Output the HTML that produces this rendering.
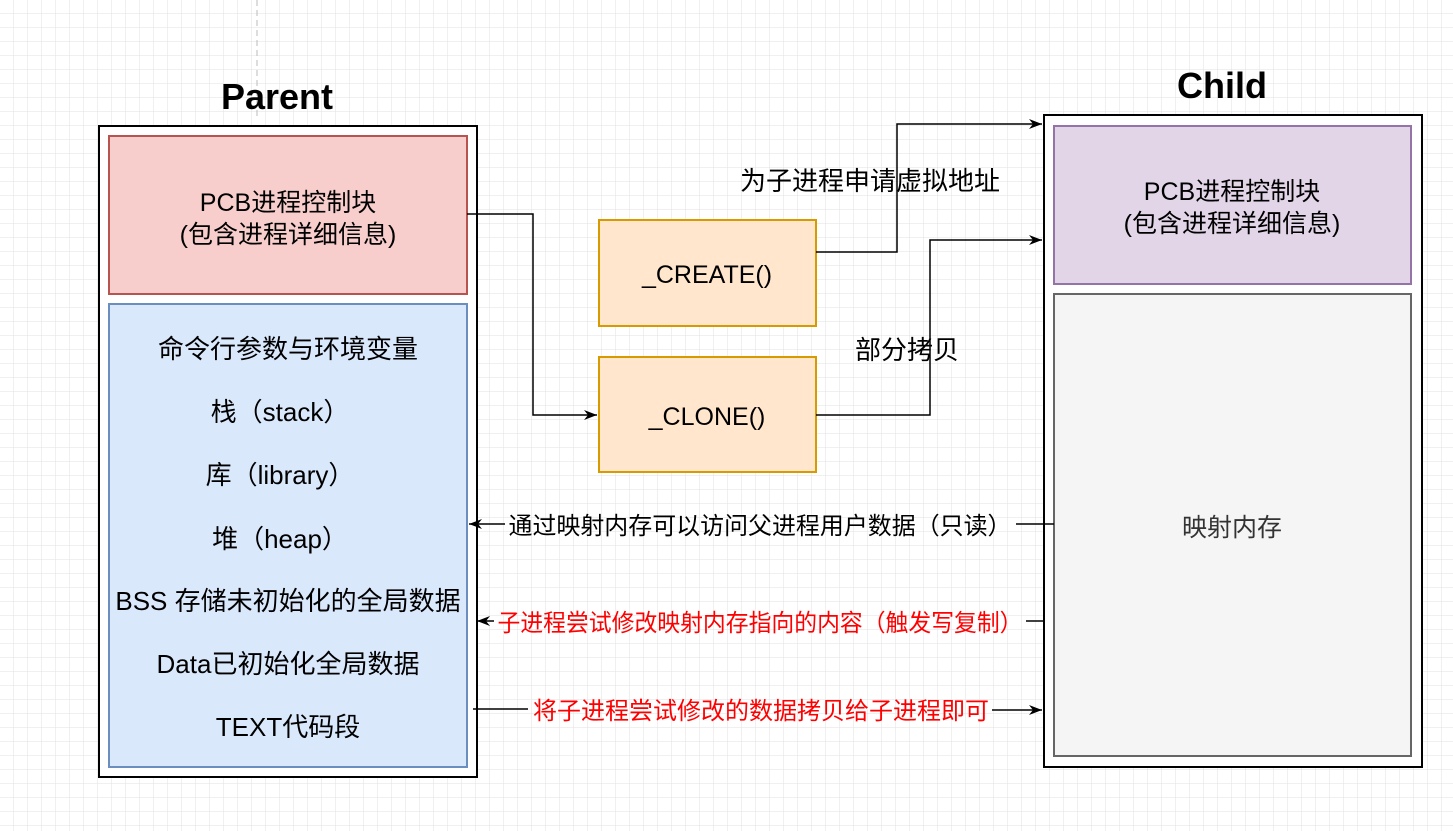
<!DOCTYPE html>
<html><head><meta charset="utf-8"><style>
html,body{margin:0;padding:0;background:#fff;}
svg{display:block;}
text{font-family:"Liberation Sans","Noto Sans CJK SC",sans-serif;}
</style></head><body>
<svg width="1453" height="831" viewBox="0 0 1453 831" xmlns="http://www.w3.org/2000/svg">
<defs>
<pattern id="g" width="14" height="14" patternUnits="userSpaceOnUse">
<path d="M14 0V14M0 14H14" fill="none" stroke="#e2e2e2" stroke-width="1"/>
</pattern>
<marker id="a" markerWidth="14" markerHeight="12" refX="13" refY="6" orient="auto" markerUnits="userSpaceOnUse">
<path d="M0,1 L13,6 L0,11 L4,6 z" fill="#000"/>
</marker>
</defs>
<rect width="1453" height="831" fill="#fff"/>
<rect width="1453" height="831" fill="url(#g)"/>
<line x1="257" y1="0" x2="257" y2="120" stroke="#bbb" stroke-dasharray="6,4"/>

<text x="277" y="109" font-size="36" font-weight="bold" text-anchor="middle" font-family="DejaVu Sans, sans-serif">Parent</text>
<text x="1222" y="98" font-size="36" font-weight="bold" text-anchor="middle" font-family="DejaVu Sans, sans-serif">Child</text>

<rect x="99" y="126" width="378" height="651" fill="#fff" stroke="#000" stroke-width="2"/>
<rect x="109" y="136" width="358" height="158" fill="#f8cecc" stroke="#b85450" stroke-width="2"/>
<rect x="109" y="304" width="358" height="463" fill="#dae8fc" stroke="#6c8ebf" stroke-width="2"/>
<text x="288" y="211" font-size="25" text-anchor="middle">PCB进程控制块</text>
<text x="288" y="243" font-size="25" text-anchor="middle">(包含进程详细信息)</text>
<g font-size="26" text-anchor="middle">
<text x="288" y="358">命令行参数与环境变量</text>
<text x="280" y="421">栈（stack）</text>
<text x="280" y="484">库（library）</text>
<text x="280" y="548">堆（heap）</text>
<text x="288" y="610">BSS 存储未初始化的全局数据</text>
<text x="288" y="673">Data已初始化全局数据</text>
<text x="288" y="736">TEXT代码段</text>
</g>

<rect x="1044" y="115" width="378" height="652" fill="#fff" stroke="#000" stroke-width="2"/>
<rect x="1054" y="126" width="357" height="158" fill="#e1d5e7" stroke="#9673a6" stroke-width="2"/>
<rect x="1054" y="294" width="357" height="462" fill="#f5f5f5" stroke="#666" stroke-width="2"/>
<text x="1232" y="200" font-size="25" text-anchor="middle">PCB进程控制块</text>
<text x="1232" y="232" font-size="25" text-anchor="middle">(包含进程详细信息)</text>
<text x="1232" y="536" font-size="25" text-anchor="middle" fill="#333">映射内存</text>

<rect x="599" y="220" width="217" height="106" fill="#ffe6cc" stroke="#d79b00" stroke-width="2"/>
<rect x="599" y="357" width="217" height="115" fill="#ffe6cc" stroke="#d79b00" stroke-width="2"/>
<text x="707" y="283" font-size="25" text-anchor="middle">_CREATE()</text>
<text x="707" y="425" font-size="25" text-anchor="middle">_CLONE()</text>

<g fill="none" stroke="#000" stroke-width="1.5">
<polyline points="467,214 533,214 533,415 597,415" marker-end="url(#a)"/>
<polyline points="816,252 897,252 897,124 1042,124" marker-end="url(#a)"/>
<polyline points="816,415 930,415 930,240 1042,240" marker-end="url(#a)"/>
<line x1="1054" y1="524" x2="1016" y2="524"/>
<line x1="505" y1="524" x2="469" y2="524" marker-end="url(#a)"/>
<line x1="1044" y1="621" x2="1026" y2="621"/>
<line x1="494" y1="621" x2="477" y2="621" marker-end="url(#a)"/>
<line x1="473" y1="709" x2="528" y2="709"/>
<line x1="992" y1="710" x2="1042" y2="710" marker-end="url(#a)"/>
</g>
<text x="740" y="190" font-size="26">为子进程申请虚拟地址</text>
<text x="855" y="359" font-size="26">部分拷贝</text>
<text x="760" y="534" font-size="24" text-anchor="middle" textLength="503" lengthAdjust="spacingAndGlyphs">通过映射内存可以访问父进程用户数据（只读）</text>
<text x="760" y="631" font-size="24" text-anchor="middle" fill="#f00" textLength="525" lengthAdjust="spacingAndGlyphs">子进程尝试修改映射内存指向的内容（触发写复制）</text>
<text x="761" y="719" font-size="24" text-anchor="middle" fill="#f00" textLength="456" lengthAdjust="spacingAndGlyphs">将子进程尝试修改的数据拷贝给子进程即可</text>
</svg>
</body></html>
